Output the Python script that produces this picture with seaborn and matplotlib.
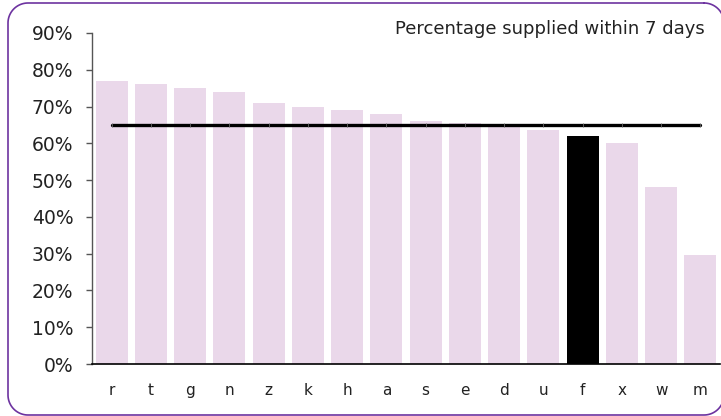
import matplotlib
matplotlib.use("Agg")
import matplotlib.pyplot as plt
from matplotlib.lines import Line2D
from matplotlib.transforms import Affine2D
from matplotlib.ticker import FuncFormatter
import numpy as np
import seaborn as sns
import pandas as pd

# Share of orders supplied within 7 days, by unit
categories = ["r", "t", "g", "n", "z", "k", "h", "a", "s", "e", "d", "u", "f", "x", "w", "m"]
supplied_pct = [77, 76, 75, 74, 71, 70, 69, 68, 66, 65.4, 65, 63.7, 62, 60, 48, 29.7]
highlight = "f"
target_pct = 65
title_text = "Percentage supplied within 7 days"
y_ticks = [0, 10, 20, 30, 40, 50, 60, 70, 80, 90]

bar_colour = "#ead8ea"
highlight_colour = "#000000"

sns.set_theme(style="white")
plt.rcParams["font.family"] = ["DejaVu Sans"]

W, H = 721, 416
df = pd.DataFrame({"unit": categories, "pct": supplied_pct})
palette = {c: (highlight_colour if c == highlight else bar_colour) for c in categories}

fig = plt.figure(figsize=(W / 100, H / 100), dpi=100)
ax = fig.add_axes([92 / W, 1 - 364 / H, (720 - 92) / W, (364 - 33) / H])

sns.barplot(data=df, x="unit", y="pct", hue="unit", palette=palette,
            order=categories, width=0.82, saturation=1, legend=False,
            linewidth=0, ax=ax)

# Target line across all units
target_df = pd.DataFrame({"unit": categories, "target": [target_pct] * len(categories)})
sns.lineplot(data=target_df, x="unit", y="target", color="black", linewidth=2.4,
             marker="|", markersize=3.5, markeredgecolor="#666666", markeredgewidth=0.6,
             sort=False, ax=ax)

ax.set_xlim(-0.5, len(categories) - 0.5)
ax.set_ylim(0, 90)
ax.set_yticks(y_ticks)
ax.yaxis.set_major_formatter(FuncFormatter(lambda v, _: f"{v:.0f}%"))
ax.set_xlabel("")
ax.set_ylabel("")

for side in ("top", "right"):
    ax.spines[side].set_visible(False)
ax.spines["left"].set_color("#555555")
ax.spines["left"].set_linewidth(1.0)
ax.spines["bottom"].set_color("black")
ax.spines["bottom"].set_linewidth(1.2)

ax.tick_params(axis="y", which="major", direction="out", length=4.5, width=1.0,
               color="#555555", pad=9, labelsize=13.5, labelcolor="#222222", left=True)
ax.tick_params(axis="x", length=0, pad=14, labelsize=11, labelcolor="#222222")

fig.text(705 / W, 1 - 34.5 / H, title_text, ha="right", va="baseline",
         fontsize=13, color="#222222")


# Rounded purple frame around the chart, laid out in pixel units (y down)
def rounded_outline(x0, y0, x1, y1, r, n=24):
    xs, ys = [], []
    corners = [((x1 - r, y0 + r), 90, 0), ((x1 - r, y1 - r), 0, -90),
               ((x0 + r, y1 - r), -90, -180), ((x0 + r, y0 + r), 180, 90)]
    for (cx, cy), a0, a1 in corners:
        t = np.radians(np.linspace(a0, a1, n))
        xs.extend(cx + r * np.cos(t))
        ys.extend(cy - r * np.sin(t))
    xs.append(xs[0])
    ys.append(ys[0])
    return np.array(xs), np.array(ys)


fx, fy = rounded_outline(8, 3, 724, 415, 20)
to_fig = Affine2D().scale(1 / W, -1 / H).translate(0, 1) + fig.transFigure
fig.add_artist(Line2D(fx, fy, transform=to_fig, color="#6d33a0", linewidth=1.2,
                      solid_joinstyle="round"))

fig.savefig("out.png", dpi=100)
